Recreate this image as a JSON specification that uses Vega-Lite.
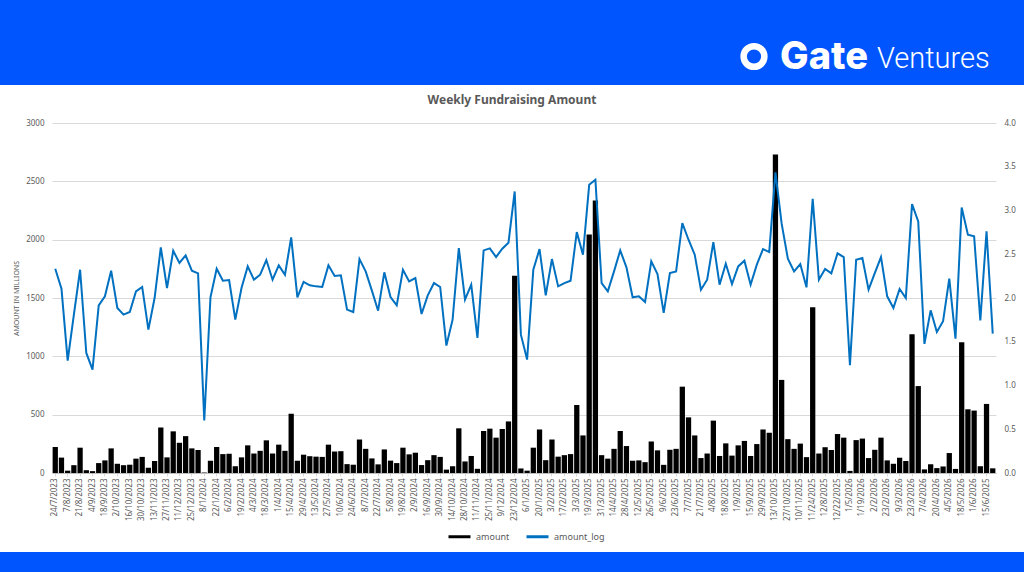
{
  "$schema": "https://vega.github.io/schema/vega-lite/v6.json",
  "padding": 0,
  "background": "#ffffff",
  "spacing": 9,
  "config": {"view": {"stroke": null}, "font": "Noto Sans"},
  "resolve": {"legend": {"color": "independent"}, "scale": {"color": "independent"}},
  "vconcat": [
    {
      "width": 1024, "height": 85, "view": {"fill": "#0055FF", "stroke": null},
      "layer": [
        {"data": {"values": [{"label": "logo"}]},
         "mark": {"type": "point", "shape": "circle", "filled": false, "stroke": "#ffffff", "strokeWidth": 6.5, "size": 430, "opacity": 1, "xOffset": 242, "yOffset": 14}},
        {"data": {"values": [{"label": "Gate"}]},
         "mark": {"type": "text", "font": "Inter", "fontSize": 38, "fontWeight": 800, "color": "#ffffff", "align": "right", "baseline": "alphabetic", "dx": 356, "dy": 26},
         "encoding": {"text": {"field": "label"}}},
        {"data": {"values": [{"label": "Ventures"}]},
         "mark": {"type": "text", "font": "Roboto", "fontSize": 29, "fontWeight": 300, "color": "#ffffff", "align": "left", "baseline": "alphabetic", "dx": 365, "dy": 25.5},
         "encoding": {"text": {"field": "label"}}}
      ]
    },
    {
      "width": 1024,
      "height": 350,
      "title": {"text": "Weekly Fundraising Amount", "fontSize": 12, "fontWeight": "bold", "color": "#595959", "anchor": "middle", "frame": "group", "offset": 12},
      "data": {"values": [
        {"week": "24/7/2023", "amount": 223, "amount_log": 2.335},
        {"week": "31/7/2023", "amount": 132, "amount_log": 2.107},
        {"week": "7/8/2023", "amount": 20, "amount_log": 1.285},
        {"week": "14/8/2023", "amount": 67, "amount_log": 1.81},
        {"week": "21/8/2023", "amount": 217, "amount_log": 2.323},
        {"week": "28/8/2023", "amount": 24, "amount_log": 1.372},
        {"week": "4/9/2023", "amount": 16, "amount_log": 1.182},
        {"week": "11/9/2023", "amount": 85, "amount_log": 1.916},
        {"week": "18/9/2023", "amount": 108, "amount_log": 2.019},
        {"week": "25/9/2023", "amount": 211, "amount_log": 2.312},
        {"week": "2/10/2023", "amount": 79, "amount_log": 1.886},
        {"week": "9/10/2023", "amount": 67, "amount_log": 1.81},
        {"week": "16/10/2023", "amount": 71, "amount_log": 1.84},
        {"week": "23/10/2023", "amount": 123, "amount_log": 2.076},
        {"week": "30/10/2023", "amount": 138, "amount_log": 2.126},
        {"week": "6/11/2023", "amount": 45, "amount_log": 1.638},
        {"week": "13/11/2023", "amount": 103, "amount_log": 2.0},
        {"week": "20/11/2023", "amount": 390, "amount_log": 2.578},
        {"week": "27/11/2023", "amount": 134, "amount_log": 2.114},
        {"week": "4/12/2023", "amount": 357, "amount_log": 2.54},
        {"week": "11/12/2023", "amount": 259, "amount_log": 2.4},
        {"week": "18/12/2023", "amount": 316, "amount_log": 2.487},
        {"week": "25/12/2023", "amount": 211, "amount_log": 2.312},
        {"week": "1/1/2024", "amount": 197, "amount_log": 2.282},
        {"week": "8/1/2024", "amount": 4, "amount_log": 0.6},
        {"week": "15/1/2024", "amount": 105, "amount_log": 2.008},
        {"week": "22/1/2024", "amount": 223, "amount_log": 2.335},
        {"week": "29/1/2024", "amount": 162, "amount_log": 2.198},
        {"week": "6/2/2024", "amount": 165, "amount_log": 2.205},
        {"week": "13/2/2024", "amount": 58, "amount_log": 1.753},
        {"week": "19/2/2024", "amount": 134, "amount_log": 2.114},
        {"week": "26/2/2024", "amount": 237, "amount_log": 2.361},
        {"week": "4/3/2024", "amount": 167, "amount_log": 2.209},
        {"week": "11/3/2024", "amount": 190, "amount_log": 2.266},
        {"week": "18/3/2024", "amount": 280, "amount_log": 2.434},
        {"week": "25/3/2024", "amount": 167, "amount_log": 2.209},
        {"week": "1/4/2024", "amount": 243, "amount_log": 2.373},
        {"week": "8/4/2024", "amount": 190, "amount_log": 2.266},
        {"week": "15/4/2024", "amount": 508, "amount_log": 2.693},
        {"week": "22/4/2024", "amount": 105, "amount_log": 2.008},
        {"week": "29/4/2024", "amount": 157, "amount_log": 2.183},
        {"week": "6/5/2024", "amount": 144, "amount_log": 2.145},
        {"week": "13/5/2024", "amount": 140, "amount_log": 2.133},
        {"week": "20/5/2024", "amount": 138, "amount_log": 2.126},
        {"week": "27/5/2024", "amount": 243, "amount_log": 2.373},
        {"week": "3/6/2024", "amount": 184, "amount_log": 2.251},
        {"week": "10/6/2024", "amount": 187, "amount_log": 2.259},
        {"week": "17/6/2024", "amount": 76, "amount_log": 1.867},
        {"week": "24/6/2024", "amount": 71, "amount_log": 1.84},
        {"week": "1/7/2024", "amount": 287, "amount_log": 2.445},
        {"week": "8/7/2024", "amount": 207, "amount_log": 2.304},
        {"week": "15/7/2024", "amount": 125, "amount_log": 2.084},
        {"week": "22/7/2024", "amount": 74, "amount_log": 1.855},
        {"week": "29/7/2024", "amount": 202, "amount_log": 2.293},
        {"week": "5/8/2024", "amount": 106, "amount_log": 2.011},
        {"week": "12/8/2024", "amount": 85, "amount_log": 1.916},
        {"week": "19/8/2024", "amount": 217, "amount_log": 2.323},
        {"week": "26/8/2024", "amount": 160, "amount_log": 2.19},
        {"week": "2/9/2024", "amount": 174, "amount_log": 2.228},
        {"week": "9/9/2024", "amount": 68, "amount_log": 1.817},
        {"week": "16/9/2024", "amount": 110, "amount_log": 2.03},
        {"week": "23/9/2024", "amount": 153, "amount_log": 2.171},
        {"week": "30/9/2024", "amount": 138, "amount_log": 2.126},
        {"week": "7/10/2024", "amount": 29, "amount_log": 1.456},
        {"week": "14/10/2024", "amount": 58, "amount_log": 1.753},
        {"week": "21/10/2024", "amount": 383, "amount_log": 2.571},
        {"week": "28/10/2024", "amount": 99, "amount_log": 1.981},
        {"week": "4/11/2024", "amount": 146, "amount_log": 2.152},
        {"week": "11/11/2024", "amount": 36, "amount_log": 1.543},
        {"week": "18/11/2024", "amount": 360, "amount_log": 2.544},
        {"week": "25/11/2024", "amount": 380, "amount_log": 2.567},
        {"week": "2/12/2024", "amount": 303, "amount_log": 2.468},
        {"week": "9/12/2024", "amount": 377, "amount_log": 2.563},
        {"week": "16/12/2024", "amount": 442, "amount_log": 2.632},
        {"week": "23/12/2024", "amount": 1690, "amount_log": 3.218},
        {"week": "30/12/2024", "amount": 39, "amount_log": 1.581},
        {"week": "6/1/2025", "amount": 20, "amount_log": 1.296},
        {"week": "13/1/2025", "amount": 217, "amount_log": 2.323},
        {"week": "20/1/2025", "amount": 373, "amount_log": 2.559},
        {"week": "27/1/2025", "amount": 110, "amount_log": 2.03},
        {"week": "3/2/2025", "amount": 287, "amount_log": 2.445},
        {"week": "10/2/2025", "amount": 140, "amount_log": 2.133},
        {"week": "17/2/2025", "amount": 153, "amount_log": 2.171},
        {"week": "24/2/2025", "amount": 162, "amount_log": 2.198},
        {"week": "3/3/2025", "amount": 583, "amount_log": 2.753},
        {"week": "10/3/2025", "amount": 322, "amount_log": 2.495},
        {"week": "19/3/2025", "amount": 2045, "amount_log": 3.294},
        {"week": "24/3/2025", "amount": 2335, "amount_log": 3.351},
        {"week": "31/3/2025", "amount": 153, "amount_log": 2.171},
        {"week": "7/4/2025", "amount": 123, "amount_log": 2.076},
        {"week": "14/4/2025", "amount": 207, "amount_log": 2.304},
        {"week": "21/4/2025", "amount": 360, "amount_log": 2.544},
        {"week": "28/4/2025", "amount": 231, "amount_log": 2.35},
        {"week": "5/5/2025", "amount": 105, "amount_log": 2.008},
        {"week": "12/5/2025", "amount": 108, "amount_log": 2.019},
        {"week": "19/5/2025", "amount": 93, "amount_log": 1.954},
        {"week": "26/5/2025", "amount": 270, "amount_log": 2.419},
        {"week": "2/6/2025", "amount": 194, "amount_log": 2.274},
        {"week": "9/6/2025", "amount": 70, "amount_log": 1.829},
        {"week": "16/6/2025", "amount": 199, "amount_log": 2.285},
        {"week": "23/6/2025", "amount": 207, "amount_log": 2.304},
        {"week": "30/6/2025", "amount": 740, "amount_log": 2.856},
        {"week": "7/7/2025", "amount": 477, "amount_log": 2.666},
        {"week": "14/7/2025", "amount": 322, "amount_log": 2.495},
        {"week": "21/7/2025", "amount": 128, "amount_log": 2.095},
        {"week": "28/7/2025", "amount": 167, "amount_log": 2.209},
        {"week": "4/8/2025", "amount": 449, "amount_log": 2.639},
        {"week": "11/8/2025", "amount": 146, "amount_log": 2.152},
        {"week": "18/8/2025", "amount": 254, "amount_log": 2.392},
        {"week": "25/8/2025", "amount": 149, "amount_log": 2.16},
        {"week": "1/9/2025", "amount": 237, "amount_log": 2.361},
        {"week": "8/9/2025", "amount": 275, "amount_log": 2.426},
        {"week": "15/9/2025", "amount": 146, "amount_log": 2.152},
        {"week": "22/9/2025", "amount": 248, "amount_log": 2.381},
        {"week": "29/9/2025", "amount": 373, "amount_log": 2.559},
        {"week": "6/10/2025", "amount": 345, "amount_log": 2.525},
        {"week": "13/10/2025", "amount": 2730, "amount_log": 3.437},
        {"week": "20/10/2025", "amount": 798, "amount_log": 2.85},
        {"week": "27/10/2025", "amount": 290, "amount_log": 2.449},
        {"week": "3/11/2025", "amount": 207, "amount_log": 2.304},
        {"week": "10/11/2025", "amount": 252, "amount_log": 2.388},
        {"week": "17/11/2025", "amount": 136, "amount_log": 2.122},
        {"week": "11/24/2025", "amount": 1420, "amount_log": 3.134},
        {"week": "12/1/2025", "amount": 167, "amount_log": 2.209},
        {"week": "12/8/2025", "amount": 221, "amount_log": 2.331},
        {"week": "12/15/2025", "amount": 197, "amount_log": 2.282},
        {"week": "12/22/2025", "amount": 334, "amount_log": 2.51},
        {"week": "12/29/2025", "amount": 303, "amount_log": 2.468},
        {"week": "1/5/2026", "amount": 18, "amount_log": 1.231},
        {"week": "1/12/2026", "amount": 282, "amount_log": 2.438},
        {"week": "1/19/2026", "amount": 295, "amount_log": 2.457},
        {"week": "1/26/2026", "amount": 128, "amount_log": 2.095},
        {"week": "2/2/2026", "amount": 199, "amount_log": 2.285},
        {"week": "9/2/2026", "amount": 303, "amount_log": 2.468},
        {"week": "23/2/2026", "amount": 108, "amount_log": 2.019},
        {"week": "2/3/2026", "amount": 79, "amount_log": 1.886},
        {"week": "9/3/2026", "amount": 131, "amount_log": 2.103},
        {"week": "16/3/2026", "amount": 103, "amount_log": 2.0},
        {"week": "23/3/2026", "amount": 1190, "amount_log": 3.073},
        {"week": "30/3/2026", "amount": 745, "amount_log": 2.875},
        {"week": "7/4/2026", "amount": 31, "amount_log": 1.475},
        {"week": "14/4/2026", "amount": 75, "amount_log": 1.859},
        {"week": "20/4/2026", "amount": 42, "amount_log": 1.612},
        {"week": "27/4/2026", "amount": 56, "amount_log": 1.734},
        {"week": "4/5/2026", "amount": 171, "amount_log": 2.221},
        {"week": "11/5/2026", "amount": 35, "amount_log": 1.536},
        {"week": "18/5/2026", "amount": 1120, "amount_log": 3.035},
        {"week": "25/5/2026", "amount": 546, "amount_log": 2.723},
        {"week": "1/6/2026", "amount": 535, "amount_log": 2.704},
        {"week": "8/6/2026", "amount": 58, "amount_log": 1.745},
        {"week": "15/6/2025", "amount": 592, "amount_log": 2.761},
        {"week": "22/6/2026", "amount": 40, "amount_log": 1.593}
      ]},
      "encoding": {
        "x": {
          "field": "week", "type": "ordinal", "sort": null,
          "scale": {"range": [52, 996], "paddingInner": 0.15, "paddingOuter": 0.1},
          "axis": {
            "title": null, "labelAngle": -90, "labelFontSize": 8, "labelColor": "#595959", "labelPadding": 2,
            "tickSize": 3, "tickColor": "#d9d9d9", "domainColor": "#bfbfbf", "labelOverlap": false,
            "values": ["24/7/2023","7/8/2023","21/8/2023","4/9/2023","18/9/2023","2/10/2023","16/10/2023","30/10/2023","13/11/2023","27/11/2023","11/12/2023","25/12/2023","8/1/2024","22/1/2024","6/2/2024","19/2/2024","4/3/2024","18/3/2024","1/4/2024","15/4/2024","29/4/2024","13/5/2024","27/5/2024","10/6/2024","24/6/2024","8/7/2024","22/7/2024","5/8/2024","19/8/2024","2/9/2024","16/9/2024","30/9/2024","14/10/2024","28/10/2024","11/11/2024","25/11/2024","9/12/2024","23/12/2024","6/1/2025","20/1/2025","3/2/2025","17/2/2025","3/3/2025","19/3/2025","31/3/2025","14/4/2025","28/4/2025","12/5/2025","26/5/2025","9/6/2025","23/6/2025","7/7/2025","21/7/2025","4/8/2025","18/8/2025","1/9/2025","15/9/2025","29/9/2025","13/10/2025","27/10/2025","10/11/2025","11/24/2025","12/8/2025","12/22/2025","1/5/2026","1/19/2026","2/2/2026","23/2/2026","9/3/2026","23/3/2026","7/4/2026","20/4/2026","4/5/2026","18/5/2026","1/6/2026","15/6/2025"]
          }
        },
        "color": {
          "datum": "amount", "type": "nominal",
          "scale": {"domain": ["amount", "amount_log"], "range": ["#000000", "#0070C0"]},
          "legend": {"title": null, "orient": "none", "legendX": 447, "legendY": 401, "direction": "horizontal", "symbolType": "stroke", "symbolStrokeWidth": 3, "symbolSize": 484, "labelFontSize": 9, "labelColor": "#595959", "columnPadding": 10, "padding": 0}
        }
      },
      "layer": [
        {
          "mark": {"type": "bar"},
          "encoding": {
            "y": {"field": "amount", "type": "quantitative", "scale": {"domain": [0, 3000]},
              "axis": {"title": "AMOUNT IN MILLIONS", "titleFontSize": 7, "titleFontWeight": "normal", "titleColor": "#595959", "titlePadding": 6, "format": "d", "offset": -52,
                "values": [0, 500, 1000, 1500, 2000, 2500, 3000], "labelFontSize": 8, "labelColor": "#595959", "labelPadding": 8,
                "domain": false, "ticks": false, "gridColor": "#d9d9d9"}}
          }
        },
        {
          "mark": {"type": "line", "strokeWidth": 2},
          "encoding": {
            "y": {"field": "amount_log", "type": "quantitative", "scale": {"domain": [0, 4]},
              "axis": {"orient": "right", "title": null, "offset": -28, "values": [0, 0.5, 1, 1.5, 2, 2.5, 3, 3.5, 4], "format": ".1f", "grid": false,
                "domain": false, "ticks": false, "labelFontSize": 8, "labelColor": "#595959", "labelPadding": 8}},
            "color": {"datum": "amount_log", "type": "nominal"}
          }
        }
      ],
      "resolve": {"scale": {"y": "independent"}}
    },
    {
      "width": 1024, "height": 20, "view": {"fill": "#0055FF", "stroke": null},
      "data": {"values": [{"k": 1}]},
      "mark": {"type": "point", "opacity": 0}
    }
  ]
}
